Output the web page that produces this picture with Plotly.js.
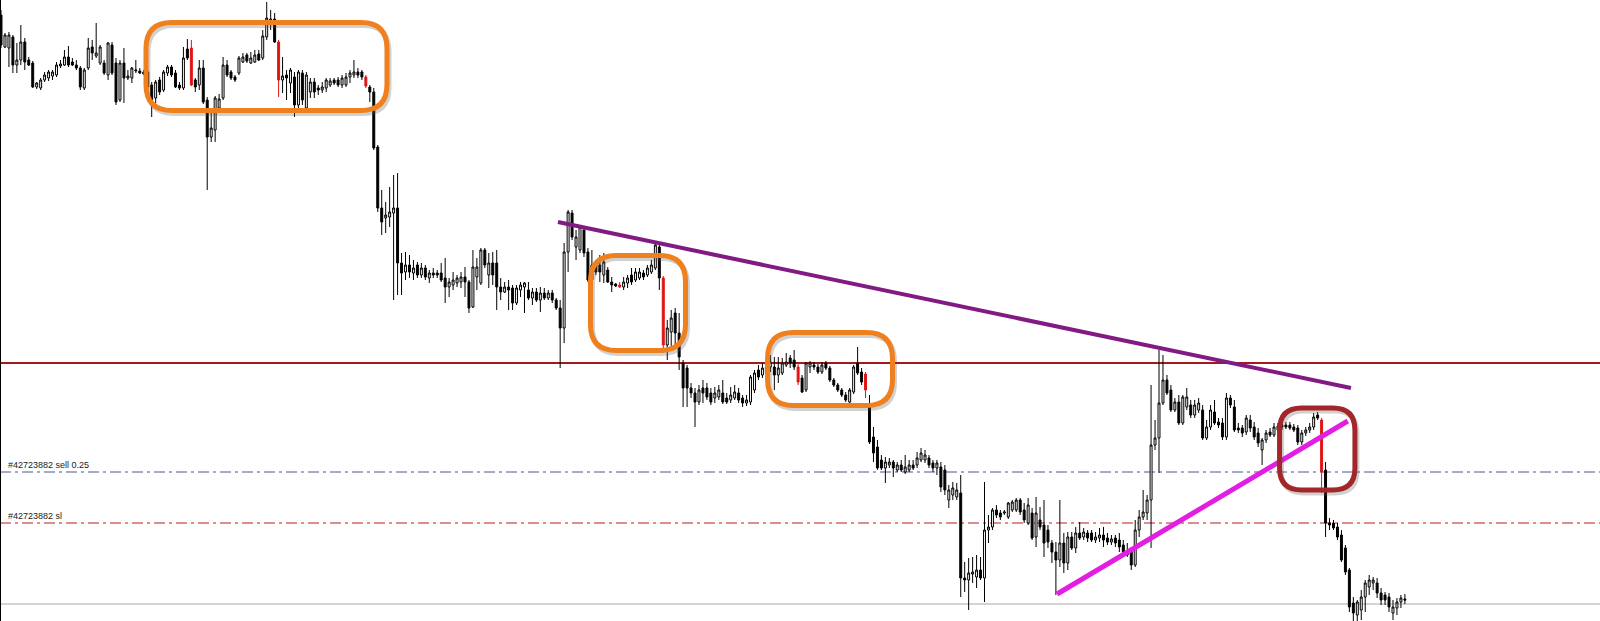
<!DOCTYPE html>
<html><head><meta charset="utf-8">
<script src="https://cdn.plot.ly/plotly-3.0.1.min.js"></script>
<style>html,body{margin:0;padding:0;background:#fff;overflow:hidden}#chart{width:1600px;height:621px}</style>
</head><body><div id="chart"></div>
<script>
// Candle values (price units; no price scale is shown on the picture)
const openP=[
985,953,952,963,935,940,958,940,937,913,
912,920,922,924,925,934,935,943,938,935,
932,912,932,953,944,937,937,925,955,937,
900,937,922,922,929,929,928,928,915,902,
920,910,927,933,927,915,912,951,952,920,
915,932,900,863,870,892,902,935,928,923,
927,938,945,937,938,946,942,963,977,981,
958,920,925,917,923,895,927,892,908,918,
912,910,912,915,920,920,915,915,923,925,
928,928,923,913,908,853,792,782,783,787,
792,737,728,735,727,735,725,732,722,727,
727,727,722,713,715,717,718,723,718,693,
723,717,750,725,737,737,713,708,713,712,
697,710,713,710,702,708,700,707,702,707,
700,692,672,748,787,753,750,770,748,720,
735,735,725,730,718,716,715,713,717,725,
720,722,727,725,728,732,753,722,655,668,
687,667,637,632,612,607,598,612,612,607,
602,603,607,602,600,602,607,602,597,598,
610,630,625,633,633,633,625,627,635,642,
640,633,622,610,633,635,633,628,637,632,
620,615,610,605,598,608,637,628,626,595,
563,553,540,532,535,538,530,535,528,530,
535,535,540,540,542,537,532,533,530,500,
505,503,507,422,420,426,423,430,422,470,
473,490,487,487,483,490,490,500,490,477,
487,463,480,475,470,457,448,440,457,437,
463,452,467,463,467,467,460,462,465,462,
458,462,460,455,448,448,435,470,483,487,
500,555,562,597,620,610,590,598,577,593,
595,585,590,590,562,573,588,578,577,563,
602,593,572,572,568,580,573,567,550,560,
568,565,570,575,575,575,573,572,558,567,
570,573,585,580,530,477,477,473,465,452,
430,397,385,390,403,413,417,417,407,405,
403,387,392,398,401];
const highP=[
990,967,968,965,957,975,962,943,939,918,
922,928,930,930,938,940,950,954,942,940,
934,932,962,960,977,955,940,958,958,942,
940,952,930,933,940,932,930,930,918,920,
923,930,935,935,930,918,953,961,960,922,
940,940,903,887,904,906,943,940,930,925,
944,947,947,948,950,950,970,998,990,987,
960,943,930,932,928,930,930,928,922,922,
915,918,922,922,922,923,925,927,930,940,
932,930,925,915,912,855,810,798,813,825,
827,747,748,745,740,738,737,735,730,732,
730,737,742,722,728,725,728,733,720,750,
742,752,752,747,748,750,722,718,720,715,
715,718,718,718,712,712,713,712,710,710,
702,700,757,790,790,770,775,774,752,750,
740,745,747,733,723,717,718,723,725,732,
732,732,730,735,740,757,757,724,680,690,
692,687,640,635,617,612,615,620,617,612,
613,615,620,607,613,615,612,605,605,625,
630,635,637,640,645,643,643,642,647,645,
650,637,625,638,639,638,636,638,639,634,
622,617,612,608,612,635,653,632,628,605,
573,560,545,543,542,540,538,540,545,540,
540,548,552,550,545,540,540,538,535,515,
518,517,525,438,442,443,445,443,518,485,
492,495,490,490,498,500,502,502,497,502,
492,503,493,500,475,460,458,500,467,468,
468,473,478,472,470,470,468,472,473,467,
465,465,467,460,457,453,480,490,510,505,
615,580,650,645,625,615,602,605,605,612,
600,600,602,595,580,595,600,582,582,607,
605,600,577,575,585,585,578,572,562,570,
572,577,577,577,578,578,576,575,570,573,
577,587,588,582,538,482,480,477,470,455,
432,403,400,410,420,425,423,422,412,408,
407,400,402,405,406];
const lowP=[
952,952,933,927,927,935,930,934,912,911,
910,918,919,920,923,932,934,933,934,930,
910,910,930,940,942,935,925,920,925,895,
898,897,920,917,927,926,925,911,883,897,
905,908,924,923,912,910,910,940,914,908,
910,896,810,858,858,888,900,923,920,918,
925,937,937,936,937,939,940,960,970,957,
903,907,900,907,883,892,895,890,902,902,
905,907,908,913,915,913,912,913,917,922,
922,920,912,898,850,788,765,767,773,700,
705,705,720,722,720,722,722,720,717,722,
722,718,697,703,710,713,712,703,687,692,
710,715,732,712,715,690,700,707,690,690,
695,703,687,700,695,698,688,700,700,697,
690,632,657,728,760,740,747,743,718,697,
725,718,717,717,708,713,712,710,712,715,
718,720,720,723,726,730,710,647,640,653,
653,630,593,593,602,573,595,597,600,595,
597,600,596,596,597,600,597,593,594,595,
607,620,622,620,628,610,617,625,633,632,
630,615,607,608,627,630,626,626,630,618,
613,608,603,598,597,606,625,615,602,556,
538,530,530,517,532,523,528,528,526,528,
530,532,538,537,532,528,525,508,505,492,
500,500,403,408,390,417,412,420,398,457,
470,482,480,485,481,488,488,485,477,475,
460,453,470,443,452,437,405,433,427,430,
450,447,460,460,458,458,457,458,453,455,
455,453,448,445,443,430,433,463,480,480,
452,550,527,595,605,588,588,575,575,590,
582,582,587,560,560,570,575,572,560,560,
592,568,567,563,565,568,560,553,535,557,
563,563,567,570,571,570,568,555,555,564,
567,570,580,507,463,470,470,460,438,425,
388,378,378,380,388,405,410,402,395,395,
388,380,385,392,396];
const closeP=[
955,965,965,935,940,958,938,935,913,917,
920,925,928,928,935,936,943,935,935,932,
913,930,952,947,947,953,927,957,927,898,
937,922,924,932,930,927,926,913,900,918,
908,928,933,925,913,912,942,942,915,913,
932,898,863,872,902,901,935,925,922,920,
942,943,939,942,945,940,964,982,981,958,
920,924,922,930,895,928,900,925,918,908,
910,913,920,919,917,915,922,923,927,928,
925,923,914,908,852,792,778,785,788,792,
737,727,735,728,732,725,732,723,727,725,
725,720,713,718,720,722,723,718,692,733,
733,750,735,737,725,713,708,713,710,697,
712,715,717,702,708,700,707,702,707,700,
692,672,748,788,763,763,773,747,720,735,
728,728,738,718,715,714,713,718,722,718,
728,728,723,732,735,755,722,655,672,682,
667,643,612,612,607,598,610,607,603,598,
607,610,598,598,605,608,600,597,600,623,
627,623,632,627,638,625,632,637,638,637,
633,618,608,637,637,633,628,635,632,620,
615,610,605,600,610,633,627,618,610,558,
547,532,532,538,538,532,535,530,533,535,
532,542,547,545,535,532,537,513,510,510,
512,510,422,420,427,428,430,422,470,473,
490,485,483,488,497,498,500,488,480,495,
462,487,473,457,458,448,440,457,437,463,
452,467,462,468,462,460,463,465,460,458,
461,457,453,448,445,435,470,483,488,500,
555,562,597,620,607,590,598,577,603,603,
585,595,597,562,573,590,577,575,563,602,
595,570,570,567,582,572,563,557,560,567,
565,573,574,573,573,572,570,558,567,570,
573,583,582,528,477,475,472,463,440,428,
393,387,398,403,417,420,420,407,400,400,
393,393,398,402,400];
// candles that are painted red on the chart
const redIdx=[48,70,92,156,167,201,218,333];
// horizontal levels
const levelResist=637, levelSell=528, levelSL=477, levelBase=396;
const levelLabels=['#42723882 sell 0.25','#42723882 sl'];
// drawn objects: [barIndex, price]
const trendDown=[[140.45,778],[340.4,612]];
const trendUp=[[266.3,406],[339.6,579]];
// highlight boxes: [bar from, bar to, price top, price bottom]
const orangeBoxes=[[36.56,97.33,977.5,889.5],[148.64,172.6,744.5,649.5],[193.3,224.8,667.5,594.5]];
const redBox=[322.4,341.4,592,510];

const W=1600,H=621;
const xr=[-0.252,403.2], yr=[379,1000];
const pxX=W/(xr[1]-xr[0]), pxY=H/(yr[1]-yr[0]);

const red=new Set(redIdx);
function build(cond){
  const t={x:[],open:[],high:[],low:[],close:[]};
  openP.forEach((o,i)=>{ if(cond(i)){t.x.push(i);t.open.push(o);t.high.push(highP[i]);t.low.push(lowP[i]);t.close.push(closeP[i]);}});
  return t;
}
const n=build(i=>!red.has(i)), r=build(i=>red.has(i));
const traces=[
 Object.assign({type:'candlestick',hoverinfo:'none',showlegend:false,
   increasing:{line:{color:'#000',width:1},fillcolor:'#ffffff'},
   decreasing:{line:{color:'#000',width:1},fillcolor:'#000000'}},n),
 Object.assign({type:'candlestick',hoverinfo:'none',showlegend:false,
   increasing:{line:{color:'#e01414',width:1},fillcolor:'#e01414'},
   decreasing:{line:{color:'#e01414',width:1},fillcolor:'#e01414'}},r)
];

function rrect(b,rpx,dxp,dyp){
  dxp=dxp||0; dyp=dyp||0;
  let [x0,x1,y1,y0]=b; x0+=dxp/pxX; x1+=dxp/pxX; y0-=dyp/pxY; y1-=dyp/pxY;
  const rx=rpx/pxX, ry=rpx/pxY;
  return `M${x0+rx},${y1} L${x1-rx},${y1} Q${x1},${y1} ${x1},${y1-ry} L${x1},${y0+ry} Q${x1},${y0} ${x1-rx},${y0} L${x0+rx},${y0} Q${x0},${y0} ${x0},${y0+ry} L${x0},${y1-ry} Q${x0},${y1} ${x0+rx},${y1} Z`;
}
const hline=(y,color,width,dash)=>({type:'line',xref:'paper',yref:'y',x0:0,x1:1,y0:y,y1:y,layer:'below',line:{color,width,dash}});
const dd='11px,4px,3px,4px';
const shapes=[
 hline(levelBase,'#a8a8a8',1,'solid'),
 hline(levelSL,'#b81c1c',1,dd),
 hline(levelSell,'#505094',1,dd),
 hline(levelResist,'#a3191c',2,'solid'),
 {type:'line',xref:'paper',yref:'paper',x0:0,x1:0,y0:0,y1:1,line:{color:'#000',width:2}},
 {type:'line',xref:'x',yref:'y',x0:trendDown[0][0],y0:trendDown[0][1],x1:trendDown[1][0],y1:trendDown[1][1],line:{color:'#821a84',width:4}},
 {type:'line',xref:'x',yref:'y',x0:trendUp[0][0],y0:trendUp[0][1],x1:trendUp[1][0],y1:trendUp[1][1],line:{color:'#e21ee2',width:5}}
];
const shadow='rgba(90,90,90,0.28)';
orangeBoxes.forEach(b=>{
  shapes.push({type:'path',xref:'x',yref:'y',path:rrect(b,26,2,3),line:{color:shadow,width:5},fillcolor:'rgba(0,0,0,0)'});
  shapes.push({type:'path',xref:'x',yref:'y',path:rrect(b,26),line:{color:'#f07f1e',width:5},fillcolor:'rgba(0,0,0,0)'});
});
shapes.push({type:'path',xref:'x',yref:'y',path:rrect(redBox,22,2,3),line:{color:shadow,width:5},fillcolor:'rgba(0,0,0,0)'});
shapes.push({type:'path',xref:'x',yref:'y',path:rrect(redBox,22),line:{color:'#a3262a',width:5},fillcolor:'rgba(0,0,0,0)'});

const ann=(txt,y)=>({xref:'paper',yref:'y',x:0,y:y,xanchor:'left',yanchor:'bottom',xshift:6,showarrow:false,text:txt,
  font:{family:'Liberation Sans, Arial, sans-serif',size:9,color:'#1a1a1a'}});
const layout={width:W,height:H,margin:{l:0,r:0,t:0,b:0},paper_bgcolor:'#fff',plot_bgcolor:'#fff',showlegend:false,
  xaxis:{range:xr,visible:false,rangeslider:{visible:false},fixedrange:true},
  yaxis:{range:yr,visible:false,fixedrange:true},
  shapes:shapes,
  annotations:[ann(levelLabels[0],levelSell),ann(levelLabels[1],levelSL)]};
Plotly.newPlot('chart',traces,layout,{staticPlot:true,displayModeBar:false});
</script></body></html>
